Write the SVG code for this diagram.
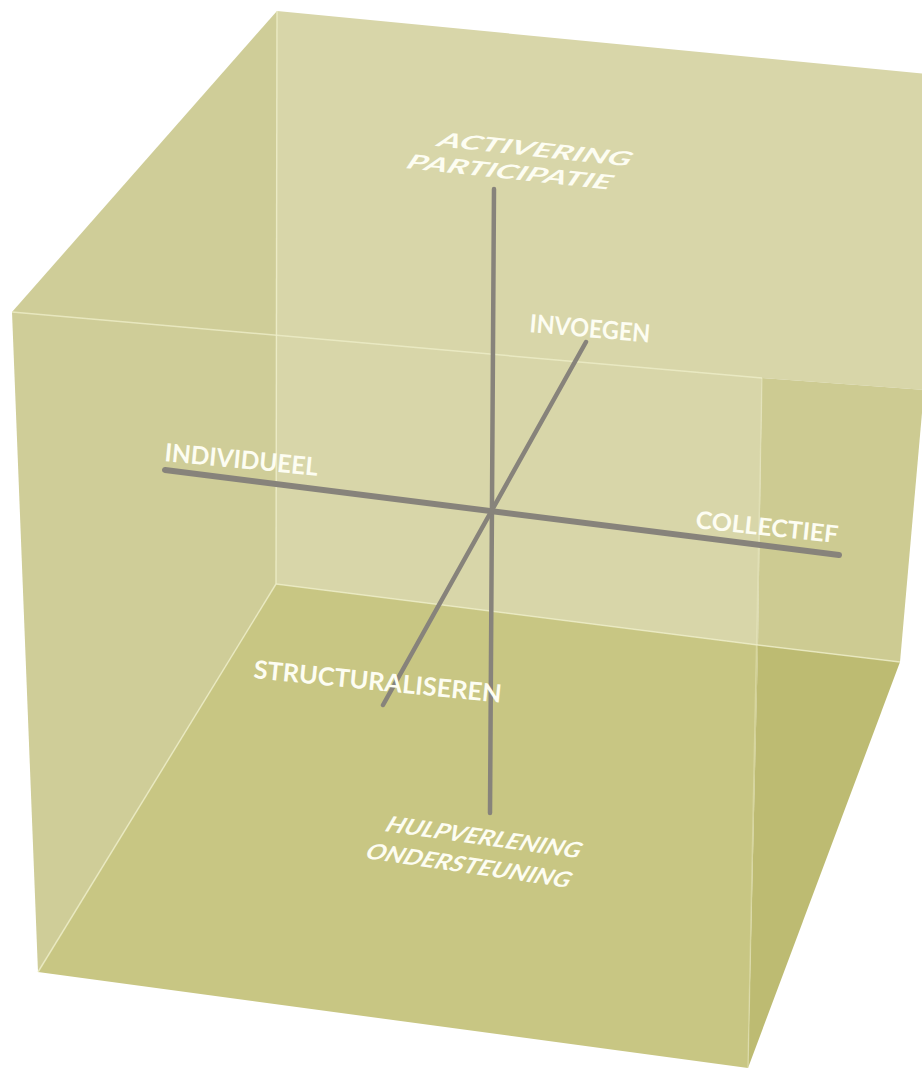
<svg xmlns="http://www.w3.org/2000/svg" width="922" height="1075" viewBox="0 0 922 1075">
<style>
.edge{fill:none;stroke:#eeedc8;stroke-width:1.5;opacity:0.8}
.axis{fill:none;stroke:#87837b;stroke-linecap:round}
.lbl{font-family:Lato,"Open Sans","DejaVu Sans",sans-serif;font-weight:bold;fill:#fdfdf2}
.it{font-style:italic}
</style>
<rect width="922" height="1075" fill="#ffffff"/>
<g id="cube">
<polygon points="277,11 276,584 38,972 12,312" fill="#cfcd98"/>
<polygon points="277,11 926,74 924,390 762,378 758,645 276,584" fill="#d8d6a9"/>
<polygon points="762,378 924,390 900,662 758,645" fill="#cdcb92"/>
<polygon points="276,584 758,645 748,1068 38,972" fill="#c8c683"/>
<polygon points="758,645 900,662 748,1068" fill="#bdbb72"/>
<polyline class="edge" points="277,11 276,584"/>
<polyline class="edge" points="276,584 758,645 900,662"/>
<polyline class="edge" points="276,584 38,972"/>
<polyline class="edge" points="12,312 762,378"/>
<polyline class="edge" points="762,378 748,1068" style="opacity:0.4"/>
</g>
<g id="connectors">
<line class="axis" x1="494" y1="189" x2="490" y2="813" stroke-width="4.5"/>
<line class="axis" x1="165" y1="470" x2="839" y2="555" stroke-width="6"/>
<line class="axis" x1="586" y1="342" x2="383" y2="705" stroke-width="4.5"/>
</g>
<g id="activering">
<text class="lbl it" font-size="20" transform="translate(436,146) rotate(6) skewX(-18)" textLength="194" lengthAdjust="spacingAndGlyphs">ACTIVERING</text>
<text class="lbl it" font-size="20" transform="translate(405,168) rotate(6) skewX(-18)" textLength="205" lengthAdjust="spacingAndGlyphs">PARTICIPATIE</text>
</g>
<g id="invoegen">
<text class="lbl" font-size="25" transform="translate(529,332) rotate(5)" textLength="121" lengthAdjust="spacingAndGlyphs">INVOEGEN</text>
</g>
<g id="individueel">
<text class="lbl" font-size="25" transform="translate(164,461) rotate(5.5)" textLength="154" lengthAdjust="spacingAndGlyphs">INDIVIDUEEL</text>
</g>
<g id="collectief">
<text class="lbl" font-size="24" transform="translate(695,528) rotate(6)" textLength="143" lengthAdjust="spacingAndGlyphs">COLLECTIEF</text>
</g>
<g id="structuraliseren">
<text class="lbl" font-size="25" transform="translate(253,678) rotate(5.7)" textLength="249" lengthAdjust="spacingAndGlyphs">STRUCTURALISEREN</text>
</g>
<g id="hulpverlening">
<text class="lbl it" font-size="22" transform="translate(384,831) rotate(8) skewX(-15)" textLength="196" lengthAdjust="spacingAndGlyphs">HULPVERLENING</text>
<text class="lbl it" font-size="22" transform="translate(364,858) rotate(8.3) skewX(-15)" textLength="206" lengthAdjust="spacingAndGlyphs">ONDERSTEUNING</text>
</g>
</svg>
